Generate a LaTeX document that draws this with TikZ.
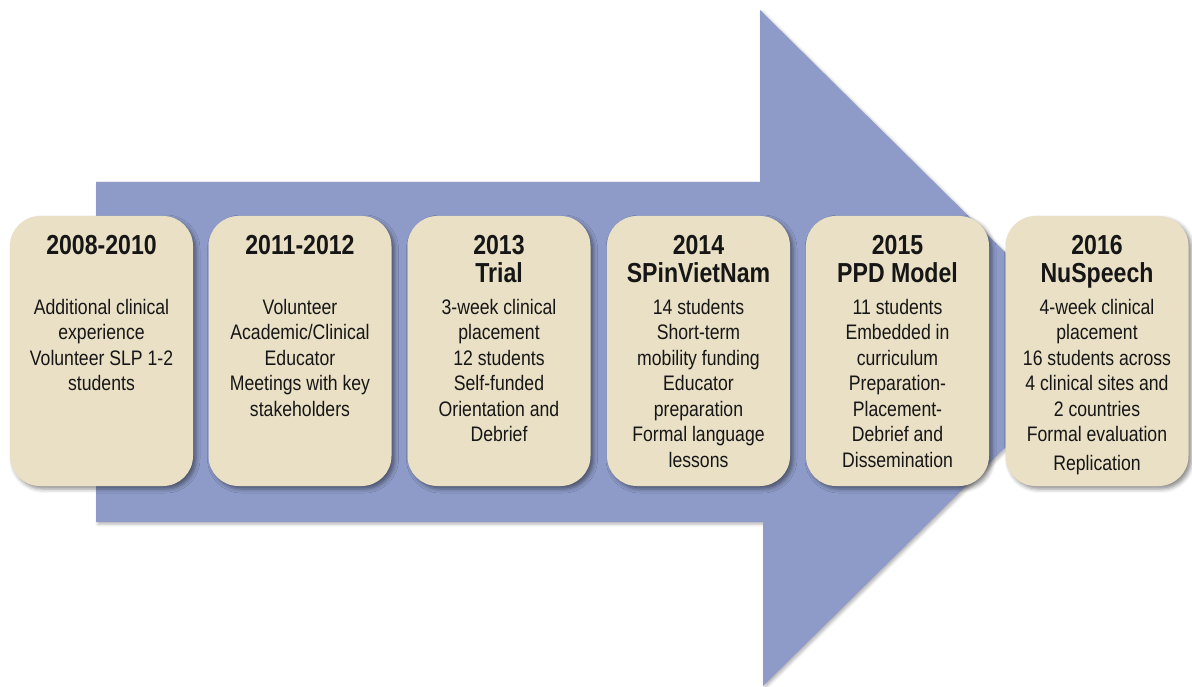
\documentclass[tikz,border=0pt]{standalone}
\usepackage{fontspec}
\setmainfont{Liberation Sans}[FakeStretch=0.84]
\usetikzlibrary{shadows.blur}

\definecolor{arrowblue}{HTML}{8E9BC8}
\definecolor{boxtan}{HTML}{E9E0C5}
\definecolor{ink}{HTML}{161616}

\tikzset{
  stagebox/.style={fill=boxtan, rounded corners=30pt, minimum width=183pt,
    minimum height=270pt, inner sep=0pt,
    blur shadow={shadow xshift=3pt, shadow yshift=-3pt, shadow blur radius=4pt, shadow opacity=45}},
  titletext/.style={anchor=north, inner sep=0pt, align=center, text=ink,
    font=\fontsize{27.5}{28}\selectfont\bfseries},
  bodytext/.style={anchor=north, inner sep=0pt, align=center, text=ink,
    font=\fontsize{21}{25.5}\selectfont},
}

\begin{document}
\begin{tikzpicture}[x=1pt, y=-1pt]
\useasboundingbox (0,0) rectangle (1192,687);

% big timeline arrow
\path[fill=arrowblue,
      blur shadow={shadow xshift=2pt, shadow yshift=-2pt, shadow blur radius=3pt, shadow opacity=30}]
  (96,182) -- (760,182) -- (760,10) -- (1104,350) -- (763,686) -- (763,522) -- (96,522) -- cycle;

% stage boxes
\node[stagebox] (b1) at (101.5,351) {};
\node[stagebox] (b2) at (300,351) {};
\node[stagebox] (b3) at (499,351) {};
\node[stagebox] (b4) at (698.5,351) {};
\node[stagebox] (b5) at (897.5,351) {};
\node[stagebox] (b6) at (1097,351) {};

% titles
\node[titletext] (t1) at ([yshift=-19.5pt]b1.north) {2008-2010};
\node[titletext] (t2) at ([yshift=-19.5pt]b2.north) {2011-2012};
\node[titletext] (t3) at ([yshift=-19.5pt]b3.north) {2013\\Trial};
\node[titletext] (t4) at ([yshift=-19.5pt]b4.north) {2014\\SPinVietNam};
\node[titletext] (t5) at ([yshift=-19.5pt]b5.north) {2015\\PPD Model};
\node[titletext] (t6) at ([yshift=-19.5pt]b6.north) {2016\\NuSpeech};

% descriptions
\node[bodytext] (d1) at ([yshift=-83pt]b1.north)
  {Additional clinical\\experience\\Volunteer SLP 1-2\\students};
\node[bodytext] (d2) at ([yshift=-83pt]b2.north)
  {Volunteer\\Academic/Clinical\\Educator\\Meetings with key\\stakeholders};
\node[bodytext] (d3) at ([yshift=-83pt]b3.north)
  {3-week clinical\\placement\\12 students\\Self-funded\\Orientation and\\Debrief};
\node[bodytext] (d4) at ([yshift=-83pt]b4.north)
  {14 students\\Short-term\\mobility funding\\Educator\\preparation\\Formal language\\lessons};
\node[bodytext] (d5) at ([yshift=-83pt]b5.north)
  {11 students\\Embedded in\\curriculum\\Preparation-\\Placement-\\Debrief and\\Dissemination};
\node[bodytext] (d6) at ([yshift=-83pt]b6.north)
  {4-week clinical\\placement\\16 students across\\4 clinical sites and\\2 countries\\Formal evaluation\\[3pt]Replication};
\end{tikzpicture}
\end{document}
